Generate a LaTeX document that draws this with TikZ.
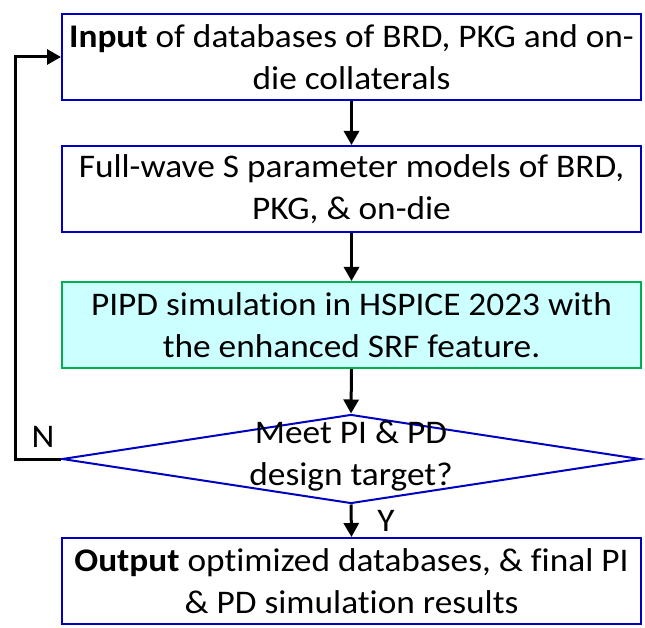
\documentclass[tikz,border=0pt]{standalone}
\usepackage{fontspec}
\setmainfont{Carlito}[FakeStretch=1.07,Ligatures=NoCommon]
\usetikzlibrary{shapes.geometric,arrows.meta}
\definecolor{boxblue}{RGB}{0,0,192}
\definecolor{boxgreen}{RGB}{0,176,80}
\definecolor{boxcyan}{RGB}{204,255,255}
\begin{document}
\begin{tikzpicture}[x=1pt,y=1pt,
  flowbox/.style={draw=boxblue,line width=2pt,minimum width=579pt,minimum height=86pt,inner sep=0pt,align=center,font=\fontsize{33}{42}\selectfont},
  conn/.style={line width=3pt,-{Triangle[width=15pt,length=14pt]}},
  lbl/.style={font=\fontsize{33}{38}\selectfont,inner sep=0pt}]
\useasboundingbox (0,0) rectangle (645,627);
\node[flowbox] (b1) at (351.5,569.5) {\textbf{Input} of databases of BRD, PKG and on-\\die collaterals};
\node[flowbox] (b2) at (351.5,438) {Full-wave S parameter models of BRD,\\PKG, \& on-die};
\node[flowbox,draw=boxgreen,fill=boxcyan] (b3) at (351.5,302) {PIPD simulation in HSPICE 2023 with\\the enhanced SRF feature.};
\node[draw=boxblue,line width=2pt,shape=diamond,minimum width=578pt,minimum height=89pt,inner sep=0pt] (d) at (351,168) {};
\node[align=center,font=\fontsize{33}{42}\selectfont,inner sep=0pt] (dt) at (351,171) {Meet PI \& PD\\design target?};
\node[flowbox] (b5) at (351.5,46) {\textbf{Output} optimized databases, \& final PI\\\& PD simulation results};
\draw[conn] (b1.south) -- (b2.north);
\draw[conn] (b2.south) -- (b3.north);
\draw[conn] (b3.south) -- (d.north);
\draw[conn] (d.south) -- (b5.north);
\coordinate (c1) at (15,168);
\coordinate (c2) at (15,570);
\draw[line width=3pt,-{Triangle[width=15pt,length=14pt]}] (d.west) -- (c1) -- (c2) -- (b1.west |- c2);
\node[lbl] (n) at (43,190) {N};
\node[lbl] (y) at (386,106) {Y};
\end{tikzpicture}
\end{document}
